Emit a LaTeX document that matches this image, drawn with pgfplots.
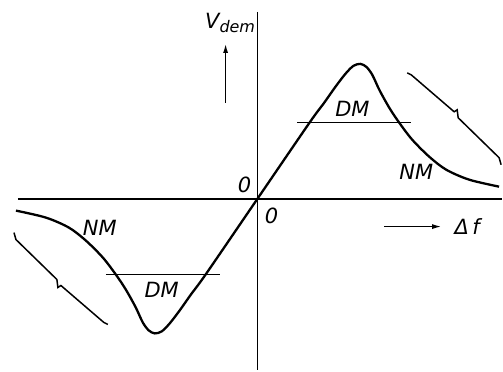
\documentclass[border=0pt]{standalone}
\usepackage{fontspec}
\setmainfont{DejaVu Sans}
\usepackage{pgfplots}
\pgfplotsset{compat=1.18}
\usetikzlibrary{arrows.meta}

\begin{document}
\begin{tikzpicture}
\begin{axis}[
    width=503pt, height=371pt,
    scale only axis,
    hide axis,
    clip=false,
    xmin=-258, xmax=245,
    ymin=-172, ymax=199,
]
\path (rel axis cs:0,0) rectangle (rel axis cs:1,1);

% axes
\addplot[black, line width=1.8pt] coordinates {(-240,0) (245,0)};
\addplot[black, line width=1.8pt] coordinates {(0,187) (0,-172)};

% demodulator S-curve (point-symmetric about the origin)
\addplot[black, line width=2.3pt, smooth, tension=0.5] coordinates {
  (-242,-12) (-212,-19) (-189,-29) (-172,-42) (-155,-59) (-142,-76)
  (-132,-91) (-122,-109) (-115,-124) (-109,-132) (-103,-135) (-96,-133)
  (-88,-125) (-78,-112) (-66,-95) (-52,-76)
  (0,0)
  (52,76) (66,95) (78,112) (88,125) (96,133) (103,135) (109,132) (115,124)
  (122,109) (132,91) (142,76) (155,59) (172,42) (189,29) (212,19) (242,12)};

% DM levels
\addplot[black, line width=1.3pt] coordinates {(40,76) (154,76)};
\addplot[black, line width=1.3pt] coordinates {(-152,-76) (-38,-76)};

% braces
\addplot[black, line width=1.5pt] coordinates {
  (150,126) (154,124) (197,87) (200,89) (201,81) (242,41) (244,34)};
\addplot[black, line width=1.5pt] coordinates {
  (-150,-126) (-154,-124) (-197,-87) (-200,-89) (-201,-81) (-242,-41) (-244,-34)};

% direction arrows
\addplot[black, line width=1.3pt, -{Latex[length=9pt,width=5pt]}] coordinates {(-32,96) (-32,155)};
\addplot[black, line width=1.3pt, -{Latex[length=9pt,width=5pt]}] coordinates {(127,-28) (184,-28)};

\begin{scope}[font=\fontsize{21}{23}\selectfont\itshape]
\node at (axis cs:-13,14) {0};
\node at (axis cs:14,-17) {0};
\node at (axis cs:95,90) {DM};
\node at (axis cs:-96,-91) {DM};
\node at (axis cs:159,27) {NM};
\node at (axis cs:-158,-29) {NM};
\node at (axis cs:210,-28) {Δ\,f};
\node[anchor=base west] at (axis cs:-56,170) {V\raisebox{-0.35ex}{\fontsize{16}{16}\selectfont dem}};
\end{scope}
\end{axis}
\end{tikzpicture}
\end{document}
